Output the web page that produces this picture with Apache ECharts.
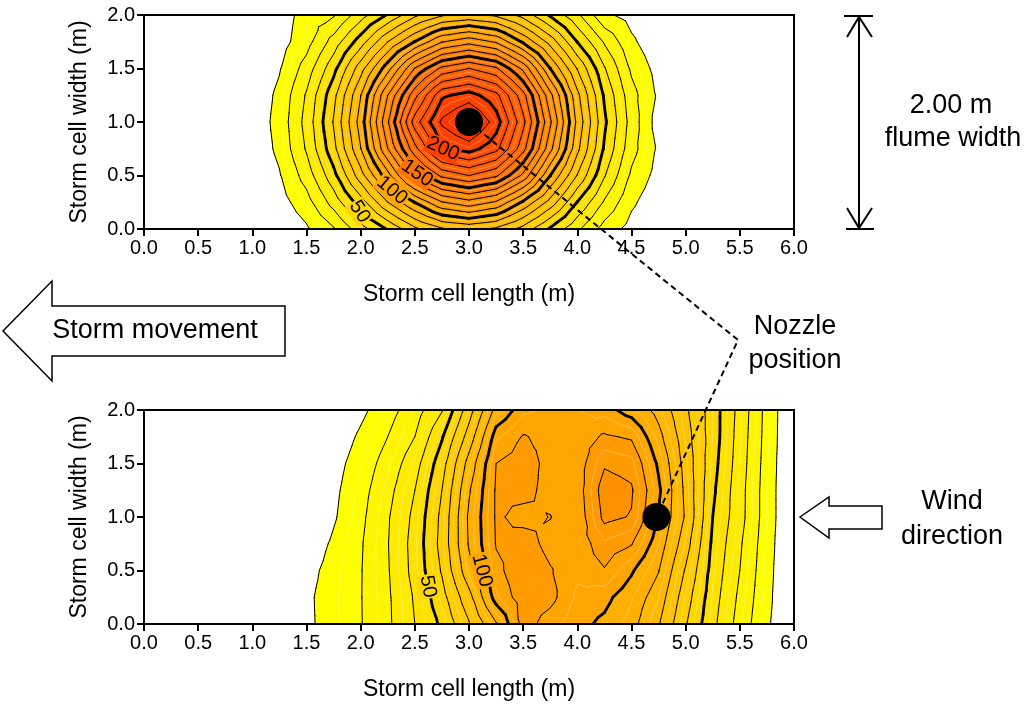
<!DOCTYPE html>
<html><head><meta charset="utf-8">
<script src="https://cdn.jsdelivr.net/npm/echarts@6/dist/echarts.min.js"></script>
<style>html,body{margin:0;padding:0;background:#fff}#c{width:1027px;height:704px}</style>
</head><body><div id="c"></div>
<script>
// ---------- DATA ----------
const xTickLabels = ['0.0','0.5','1.0','1.5','2.0','2.5','3.0','3.5','4.0','4.5','5.0','5.5','6.0'];
const yTickLabels = ['0.0','0.5','1.0','1.5','2.0'];
const gridY = [0, 0.25, 0.5, 0.75, 1.0, 1.25, 1.5, 1.75, 2.0];

// top panel: storm cell without wind
const topX = [1.0,1.25,1.5,1.75,2.0,2.25,2.5,2.75,3.0,3.25,3.5,3.75,4.0,4.25,4.5,4.75,5.0];
const topZ = [
  [0, 1.3, 8.5, 18.9, 35.6, 51, 67.7, 78.7, 82.4, 78.2, 66.2, 48.5, 32, 15.9, 6.3, 0, 0],
  [0, 5.8, 16, 34.1, 55.1, 79.9, 100.4, 119.4, 126.4, 118.7, 98.4, 76.2, 49.7, 28.8, 11.9, 2.9, 0],
  [0.9, 9.2, 24.3, 46.7, 75.8, 106.1, 140.7, 162.5, 170.1, 161.8, 137.6, 100.2, 69.5, 40.9, 18.2, 6.2, 0],
  [2.8, 12.3, 31.1, 56.9, 89.7, 130, 166.8, 198, 204.3, 193.2, 163.6, 123.1, 82.7, 48.6, 23.7, 8.2, 0],
  [3.4, 13.5, 33.5, 60.8, 94.6, 138.9, 185, 212, 225, 205.1, 172.8, 131.7, 87.4, 51.9, 25.9, 5, 0],
  [2.8, 12.3, 31.1, 56.9, 89.7, 130, 166.8, 198, 204.3, 193.2, 163.6, 123.1, 82.7, 48.6, 23.7, 8.2, 0],
  [0.9, 9.2, 24.3, 46.7, 75.8, 106.1, 140.7, 162.5, 170.1, 161.8, 137.6, 100.2, 69.5, 40.9, 18.2, 6.2, 0],
  [0, 5.8, 16, 34.1, 55.1, 79.9, 100.4, 119.4, 126.4, 118.7, 98.4, 76.2, 49.7, 28.8, 11.9, 2.9, 0],
  [0, 5, 14, 18.9, 35.6, 51, 67.7, 78.7, 82.4, 78.2, 66.2, 48.5, 32, 12, 6.3, 0, 0]
];
const topLevels = [10,20,30,40,50,60,70,80,90,100,110,120,130,140,150,160,170,180,190,200,210,220];
const topLabels = [
  {text:'50',  x:1.99, y:0.16, angle:-58, level:50},
  {text:'100', x:2.29, y:0.36, angle:-40, level:100},
  {text:'150', x:2.52, y:0.52, angle:-35, level:150},
  {text:'200', x:2.76, y:0.75, angle:-25, level:200}
];
const nozzleTop = [3.0, 1.0];

// bottom panel: storm cell with wind
const botX = [1.5,1.75,2.0,2.25,2.5,2.75,3.0,3.25,3.5,3.75,4.0,4.25,4.5,4.75,5.0,5.25,5.5,5.75,6.0];
const botZ = [
  [8.2, 13.9, 19.5, 28.2, 40, 51.8, 69.2, 89, 113, 107, 102, 98.5, 92.9, 80.8, 60.8, 42.5, 26, 11.6, 0],
  [8.4, 14, 19.6, 28.5, 41.1, 56.4, 76.7, 104, 114, 112, 104, 102, 95.6, 85.4, 64.5, 44.4, 27.9, 12.6, 0],
  [7, 13.3, 19.5, 29.2, 43.3, 61, 86.7, 108, 115, 110.5, 106, 109.5, 101, 90.4, 69, 46.3, 30, 13.3, 0],
  [4, 11.5, 19.1, 29.6, 43.8, 63.3, 91, 110.5, 113, 108, 106, 114, 110.5, 95.3, 74.4, 48.1, 31.4, 14.1, 0],
  [0, 8.9, 17.9, 29, 42.5, 62.5, 91.7, 111, 108, 110.2, 105, 122, 119.5, 99.4, 78.8, 50, 33.6, 15, 0],
  [0, 7.9, 16.6, 26.8, 40, 60, 88.9, 111, 112, 108, 106, 124, 121, 101.7, 77.8, 51.8, 33.8, 15, 0],
  [0, 6.3, 14.7, 23.8, 35.9, 55.8, 83.8, 110, 113, 108, 106, 119, 117, 98.5, 76.4, 53.6, 35, 15.6, 0],
  [0, 3.3, 11.7, 20, 30, 49, 74.4, 104, 110.5, 108, 106, 111, 109, 92.9, 74.3, 55, 35.8, 16.3, 0],
  [0, 0, 7.6, 16.2, 25.4, 39.3, 65.6, 93.3, 104, 106, 105, 103, 96.5, 86.9, 71.8, 55, 36.7, 16.7, 0]
];
const botLevels = [10,20,30,40,50,60,70,80,90,100,110,120];
const botLabels = [
  {text:'50',  x:2.62, y:0.35, angle:-80, level:50},
  {text:'100', x:3.12, y:0.50, angle:-75, level:100}
];
const nozzleBottom = [4.73, 1.0];

// ---------- HELPERS ----------
const FONT = '"Liberation Sans", Arial, sans-serif';
function bandColor(L){ const g = Math.max(0, Math.round(255 - (L - 10))); return 'rgb(255,' + g + ',0)'; }
function makeTriangles(xs, ys, Z){
  const T = [];
  for (let j = 0; j < ys.length - 1; j++) for (let i = 0; i < xs.length - 1; i++){
    const a=[xs[i],ys[j],Z[j][i]], b=[xs[i+1],ys[j],Z[j][i+1]], c=[xs[i+1],ys[j+1],Z[j+1][i+1]], d=[xs[i],ys[j+1],Z[j+1][i]];
    const m=[(xs[i]+xs[i+1])/2,(ys[j]+ys[j+1])/2,(a[2]+b[2]+c[2]+d[2])/4];
    T.push([a,b,m],[b,c,m],[c,d,m],[d,a,m]);
  }
  return T;
}
function clip(poly, L, above){
  const out = [];
  for (let i = 0; i < poly.length; i++){
    const p = poly[i], q = poly[(i+1) % poly.length];
    const pin = above ? p[2] >= L : p[2] < L;
    const qin = above ? q[2] >= L : q[2] < L;
    if (pin) out.push(p);
    if (pin !== qin){ const s = (L - p[2]) / (q[2] - p[2]); out.push([p[0]+s*(q[0]-p[0]), p[1]+s*(q[1]-p[1]), L]); }
  }
  return out;
}
function seg(t, L){
  const pts = [];
  for (let i = 0; i < 3; i++){
    const a = t[i], b = t[(i+1)%3];
    if ((a[2] >= L) !== (b[2] >= L)){ const s = (L - a[2]) / (b[2] - a[2]); pts.push([a[0]+s*(b[0]-a[0]), a[1]+s*(b[1]-a[1])]); }
  }
  return pts.length === 2 ? pts : null;
}
function contourRender(xs, ys, Z, levels, labels){
  return function(params, api){
    const T = makeTriangles(xs, ys, Z);
    const P = p => api.coord([p[0], p[1]]);
    const fills = [], faint = [], thin = [], thick = [], texts = [];
    for (let k = 0; k < levels.length; k++){
      const L = levels[k], U = levels[k+1], col = bandColor(L);
      for (const t of T){
        const vmax = Math.max(t[0][2],t[1][2],t[2][2]), vmin = Math.min(t[0][2],t[1][2],t[2][2]);
        if (vmax < L) continue;
        if (U !== undefined && vmin >= U) continue;
        let poly = clip(t, L, true);
        if (U !== undefined) poly = clip(poly, U, false);
        if (poly.length >= 3) fills.push({type:'polygon', shape:{points: poly.map(P)}, style:{fill:col, stroke:col, lineWidth:0.8}});
      }
    }
    const addLines = (L, arr, style) => {
      for (const t of T){ const s = seg(t, L); if (!s) continue; const a = P(s[0]), b = P(s[1]);
        arr.push({type:'line', shape:{x1:a[0], y1:a[1], x2:b[0], y2:b[1]}, style: style}); }
    };
    levels.forEach(L => {
      addLines(L + 5, faint, {stroke:'rgba(255,255,255,0.35)', lineWidth:0.8});
      if (L % 50 === 0) addLines(L, thick, {stroke:'#000', lineWidth:2.8, lineCap:'round'});
      else addLines(L, thin, {stroke:'#000', lineWidth:1, lineCap:'round'});
    });
    labels.forEach(lb => {
      const p = api.coord([lb.x, lb.y]);
      texts.push({type:'text', x:p[0], y:p[1], rotation: lb.angle * Math.PI / 180,
        style:{text: lb.text, fill:'#000', font: '20px ' + FONT, align:'center', verticalAlign:'middle',
          textAlign:'center', textVerticalAlign:'middle', backgroundColor: bandColor(lb.level), padding:[0,1]}});
    });
    return {type:'group', children: fills.concat(faint, thin, thick, texts)};
  };
}

function xAxisCfg(gi){
  return {gridIndex: gi, type:'value', min:0, max:6, interval:0.5, z:10,
    name:'Storm cell length (m)', nameLocation:'middle', nameGap:54,
    nameTextStyle:{color:'#000', fontSize:23, fontFamily:FONT},
    axisLine:{show:true, onZero:false, lineStyle:{color:'#000', width:2}},
    axisTick:{show:true, inside:false, length:7, lineStyle:{color:'#000', width:2}},
    axisLabel:{color:'#000', fontSize:20, fontFamily:FONT, margin:9, formatter: v => xTickLabels[Math.round(v/0.5)]},
    splitLine:{show:false}};
}
function yAxisCfg(gi){
  return {gridIndex: gi, type:'value', min:0, max:2, interval:0.5, z:10,
    name:'Storm cell width (m)', nameLocation:'middle', nameGap:53, nameRotate:90,
    nameTextStyle:{color:'#000', fontSize:23, fontFamily:FONT},
    axisLine:{show:true, onZero:false, lineStyle:{color:'#000', width:2}},
    axisTick:{show:true, inside:false, length:7, lineStyle:{color:'#000', width:2}},
    axisLabel:{color:'#000', fontSize:20, fontFamily:FONT, margin:9, formatter: v => yTickLabels[Math.round(v/0.5)]},
    splitLine:{show:false}};
}

const TXT = (x, y, t, size) => ({type:'text', x:x, y:y, z:20,
  style:{text:t, fill:'#000', font: size + 'px ' + FONT, align:'center', verticalAlign:'middle', textAlign:'center', textVerticalAlign:'middle'}});
const LINE = (pts, w) => ({type:'polyline', z:20, shape:{points:pts}, style:{stroke:'#000', lineWidth:w, fill:null}});

const chart = echarts.init(document.getElementById('c'));
chart.setOption({
  animation:false,
  backgroundColor:'#fff',
  grid:[
    {left:144, top:15, width:650, height:214, show:true, borderColor:'#000', borderWidth:2, z:10},
    {left:144, top:410, width:650, height:214, show:true, borderColor:'#000', borderWidth:2, z:10}
  ],
  xAxis:[xAxisCfg(0), xAxisCfg(1)],
  yAxis:[yAxisCfg(0), yAxisCfg(1)],
  series:[
    {type:'custom', coordinateSystem:'cartesian2d', xAxisIndex:0, yAxisIndex:0, data:[[0,0]], silent:true, clip:true, z:2,
      renderItem: contourRender(topX, gridY, topZ, topLevels, topLabels)},
    {type:'custom', coordinateSystem:'cartesian2d', xAxisIndex:1, yAxisIndex:1, data:[[0,0]], silent:true, clip:true, z:2,
      renderItem: contourRender(botX, gridY, botZ, botLevels, botLabels)},
    {type:'scatter', xAxisIndex:0, yAxisIndex:0, data:[nozzleTop], symbolSize:28, itemStyle:{color:'#000', opacity:1}, z:30, silent:true},
    {type:'scatter', xAxisIndex:1, yAxisIndex:1, data:[nozzleBottom], symbolSize:28, itemStyle:{color:'#000', opacity:1}, z:30, silent:true}
  ],
  graphic:[
    {type:'polygon', z:20, shape:{points:[[3,331],[52,281],[52,306],[285,306],[285,356],[52,356],[52,381]]}, style:{fill:'#fff', stroke:'#000', lineWidth:1.5}},
    TXT(155, 331, 'Storm movement', 27),
    {type:'polygon', z:20, shape:{points:[[800,517],[829,497],[829,506],[882,506],[882,529],[829,529],[829,538]]}, style:{fill:'#fff', stroke:'#000', lineWidth:1.5}},
    TXT(952, 502, 'Wind', 27), TXT(952, 537, 'direction', 27),
    TXT(795, 327, 'Nozzle', 27), TXT(795, 361, 'position', 27),
    TXT(951, 106, '2.00 m', 27), TXT(953, 139, 'flume width', 27),
    LINE([[859,16],[859,229]], 2), LINE([[844,16],[873,16]], 2), LINE([[846,229],[874,229]], 2),
    LINE([[847,37],[859,17],[872,37]], 2), LINE([[847,208],[859,228],[872,208]], 2)
  ]
});
const p1 = chart.convertToPixel({gridIndex:0}, nozzleTop);
const p2 = chart.convertToPixel({gridIndex:1}, nozzleBottom);
chart.setOption({graphic:[
  {id:'leader', type:'polyline', z:15, shape:{points:[p1, [738,340], p2]}, style:{stroke:'#000', lineWidth:2, lineDash:[6,4], fill:null}}
]});
</script>
</body></html>
